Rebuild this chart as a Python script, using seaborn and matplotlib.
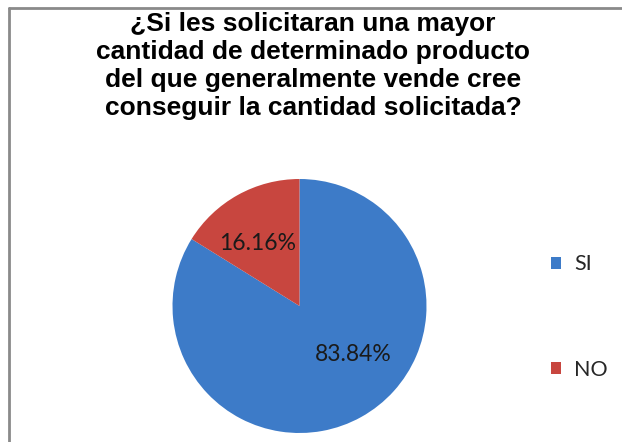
import matplotlib
matplotlib.use("Agg")
import matplotlib.pyplot as plt
import seaborn as sns
from matplotlib.lines import Line2D
from matplotlib.patches import Patch

categories = ["SI", "NO"]
values = [83.84, 16.16]
label_texts = ["83.84%", "16.16%"]
title = ("¿Si les solicitaran una mayor\ncantidad de determinado producto\n"
         "del que generalmente vende cree\nconseguir la cantidad solicitada?")

sns.set_theme(style="white")
plt.rcParams['font.family'] = ['Lato', 'DejaVu Sans']

W, H = 622, 442
fig = plt.figure(figsize=(W / 100, H / 100), dpi=100)
fig.patch.set_facecolor("white")

colors = ["#3D7BC8", "#C8463F"]

# pie axes: center (299.5, 306) px from top, radius 127
cx, cy, r = 299.5, H - 306, 127
ax = fig.add_axes([(cx - r) / W, (cy - r) / H, 2 * r / W, 2 * r / H])
wedges, _ = ax.pie(values, colors=colors, startangle=90, counterclock=False,
                   radius=1.0, wedgeprops=dict(linewidth=0))
ax.set_xlim(-1, 1)
ax.set_ylim(-1, 1)
ax.set_aspect("equal")
ax.axis("off")

label_pos = [(0.425, -0.378), (-0.327, 0.496)]
for txt, (lx, ly) in zip(label_texts, label_pos):
    ax.text(lx, ly, txt, ha="center", va="center", fontsize=16.5,
            color="#1a1a1a")

fig.text(313 / W, 1 - 66 / H, title, ha="center", va="center",
         fontsize=19, fontweight="bold", family=["Liberation Sans", "DejaVu Sans"],
         color="black", linespacing=1.22)

handles = [Patch(facecolor=c, edgecolor="none") for c in colors]
leg = fig.legend(handles, categories, loc="center left",
                 bbox_to_anchor=(551 / W, 1 - 317 / H), frameon=False,
                 fontsize=15.5, handlelength=0.48, handleheight=0.48,
                 handletextpad=0.6, labelspacing=3.95, borderpad=0,
                 borderaxespad=0)

# chart border (top and left visible)
fig.add_artist(Line2D([9 / W, 1.0], [1 - 8 / H, 1 - 8 / H], transform=fig.transFigure,
                      color="#8A8A8A", linewidth=2))
fig.add_artist(Line2D([9 / W, 9 / W], [0, 1 - 8 / H], transform=fig.transFigure,
                      color="#8A8A8A", linewidth=2))

fig.savefig("out.png", dpi=100, facecolor="white")
